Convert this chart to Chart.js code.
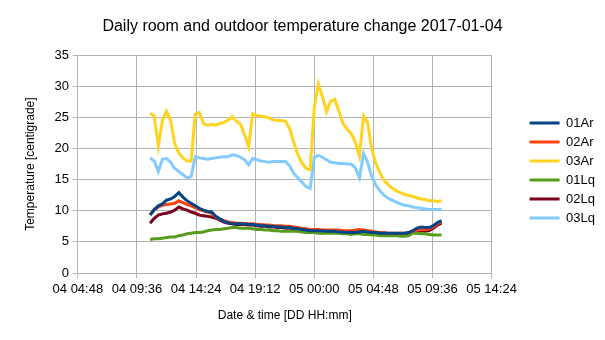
<!DOCTYPE html>
<html>
<head>
<meta charset="utf-8">
<script src="https://cdn.jsdelivr.net/npm/chart.js@4/dist/chart.umd.min.js"></script>
<style>
    html, body { margin: 0; padding: 0; background: #ffffff; }
    #box { width: 605px; height: 340px; }
</style>
</head>
<body>
<div id="box"><canvas id="myChart"></canvas></div>
<script>
// amostras a cada 20 min, a partir de 04 10:40
const sampleStart = 640;   // minutos desde 04 00:00
const sampleStep = 20;

const seriesNames = ['01Ar', '02Ar', '03Ar', '01Lq', '02Lq', '03Lq'];

const temp01Ar = [9.3, 10.2, 10.8, 11.1, 11.7, 11.9, 12.3, 12.9, 12.2, 11.6, 11.2, 10.8, 10.4, 10.1, 9.9, 9.8, 9.1, 8.7, 8.3, 8.1,
    7.9, 7.9, 7.9, 7.9, 7.8, 7.8, 7.7, 7.6, 7.6, 7.5, 7.5, 7.4, 7.4, 7.3, 7.3, 7.2, 7.1, 7.0, 6.9, 6.8,
    6.8, 6.8, 6.8, 6.7, 6.7, 6.7, 6.6, 6.6, 6.5, 6.5, 6.5, 6.6, 6.7, 6.6, 6.5, 6.5, 6.4, 6.4, 6.4, 6.4,
    6.4, 6.4, 6.4, 6.5, 6.8, 7.2, 7.4, 7.3, 7.3, 7.6, 8.1, 8.4];
const temp02Ar = [9.4, 10.1, 10.6, 10.9, 11.0, 11.1, 11.2, 11.6, 11.3, 11.0, 10.8, 10.5, 10.2, 10.0, 9.8, 9.6, 9.0, 8.6, 8.4, 8.2,
    8.1, 8.0, 8.0, 7.9, 7.9, 7.9, 7.8, 7.8, 7.7, 7.7, 7.6, 7.6, 7.6, 7.5, 7.5, 7.4, 7.3, 7.2, 7.1, 7.0,
    7.0, 7.0, 6.9, 6.9, 6.9, 6.9, 6.9, 6.8, 6.8, 6.8, 6.9, 7.0, 6.9, 6.8, 6.7, 6.6, 6.5, 6.5, 6.4, 6.4,
    6.4, 6.4, 6.4, 6.5, 6.7, 6.9, 7.0, 7.0, 7.1, 7.4, 7.9, 8.3];
const temp03Ar = [25.7, 25.2, 20.4, 24.5, 26.0, 24.5, 20.8, 19.3, 18.5, 18.0, 18.0, 25.5, 25.8, 24.0, 23.7, 23.9, 23.8, 24.0, 24.2, 24.6,
    25.1, 24.4, 23.9, 22.3, 20.3, 25.6, 25.3, 25.2, 25.1, 24.9, 24.6, 24.5, 24.5, 24.4, 23.2, 21.0, 19.0, 17.7, 16.8, 16.6,
    26.5, 30.4, 28.3, 25.9, 27.6, 27.9, 26.0, 24.0, 23.1, 22.4, 21.0, 18.8, 25.2, 24.2, 19.9, 17.6, 16.1, 14.9, 14.2, 13.6,
    13.2, 12.9, 12.6, 12.5, 12.3, 12.1, 11.9, 11.8, 11.6, 11.6, 11.5, 11.6];
const temp01Lq = [5.4, 5.5, 5.5, 5.6, 5.7, 5.8, 5.8, 6.0, 6.1, 6.3, 6.4, 6.5, 6.5, 6.6, 6.8, 6.9, 7.0, 7.0, 7.1, 7.2,
    7.3, 7.3, 7.2, 7.2, 7.2, 7.1, 7.0, 7.0, 6.9, 6.9, 6.8, 6.8, 6.7, 6.7, 6.7, 6.7, 6.7, 6.6, 6.5, 6.5,
    6.5, 6.4, 6.4, 6.4, 6.4, 6.4, 6.4, 6.3, 6.3, 6.2, 6.3, 6.3, 6.2, 6.2, 6.1, 6.1, 6.0, 6.0, 6.0, 6.0,
    6.0, 5.9, 5.9, 6.0, 6.4, 6.4, 6.3, 6.3, 6.2, 6.1, 6.1, 6.1];
const temp02Lq = [8.0, 8.8, 9.3, 9.5, 9.6, 9.8, 10.1, 10.6, 10.3, 10.1, 9.8, 9.6, 9.3, 9.2, 9.1, 9.0, 8.8, 8.5, 8.2, 8.0,
    7.9, 7.8, 7.8, 7.8, 7.7, 7.7, 7.6, 7.5, 7.5, 7.4, 7.4, 7.3, 7.3, 7.2, 7.2, 7.1, 7.0, 6.9, 6.8, 6.7,
    6.7, 6.7, 6.7, 6.6, 6.6, 6.6, 6.5, 6.5, 6.4, 6.4, 6.4, 6.5, 6.6, 6.5, 6.4, 6.4, 6.3, 6.3, 6.3, 6.3,
    6.3, 6.3, 6.3, 6.4, 6.5, 6.7, 6.8, 6.7, 6.8, 7.2, 7.7, 8.0];
const temp03Lq = [18.5, 18.0, 16.3, 18.3, 18.4, 17.8, 16.8, 16.3, 15.8, 15.3, 15.5, 18.7, 18.5, 18.4, 18.3, 18.4, 18.5, 18.6, 18.7, 18.7,
    19.0, 18.9, 18.6, 18.2, 17.4, 18.4, 18.2, 18.0, 17.9, 17.8, 17.9, 17.9, 17.9, 17.9, 17.2, 16.0, 15.3, 14.6, 13.9, 13.6,
    18.6, 18.9, 18.6, 18.2, 17.8, 17.7, 17.6, 17.6, 17.5, 17.5, 16.9, 15.3, 19.2, 17.8, 15.5, 14.1, 13.2, 12.5, 12.0, 11.7,
    11.4, 11.1, 10.9, 10.8, 10.6, 10.5, 10.4, 10.3, 10.2, 10.2, 10.2, 10.2];

// eixo x: 04 04:48 ate 05 14:24, passo 4h48
const xMin = 288;
const xMax = 2304;
const xStep = 288;
const yTicks = [0, 5, 10, 15, 20, 25, 30, 35];

const cores = ['#004586', '#ff420e', '#ffd320', '#579d1c', '#7e0021', '#83caff'];
const valores = [temp01Ar, temp02Ar, temp03Ar, temp01Lq, temp02Lq, temp03Lq];

function formatTime(m) {
    const dia = 4 + Math.floor(m / 1440);
    const h = Math.floor((m % 1440) / 60);
    const min = Math.round(m % 60);
    return String(dia).padStart(2, '0') + ' ' + String(h).padStart(2, '0') + ':' + String(min).padStart(2, '0');
}

const fonte = 'Liberation Sans, Arial, sans-serif';

// espaco extra entre a area do grafico e a legenda
const legendGap = 26;
const legendShift = 32;
const legendDrop = 9;
const legendMargin = {
    id: 'legendMargin',
    beforeInit(chart) {
        const fitOriginal = chart.legend.fit;
        chart.legend.fit = function () {
            fitOriginal.bind(chart.legend)();
            this.width += legendGap;
        };
    },
    afterLayout(chart) {
        chart.legend.left += legendShift;
        chart.legend.right += legendShift - legendGap + 10;
        chart.legend.top += legendDrop;
        chart.legend.bottom += legendDrop;
    }
};

const ctx = document.getElementById('myChart').getContext('2d');
const myChart = new Chart(ctx, {
    type: 'line',
    data: {
        datasets: seriesNames.map((nome, k) => ({
            label: nome,
            data: valores[k].map((v, i) => ({ x: sampleStart + i * sampleStep, y: v })),
            borderColor: cores[k],
            backgroundColor: cores[k],
            borderWidth: 3,
            pointRadius: 0,
            tension: 0,
            fill: false
        }))
    },
    options: {
        responsive: true,
        maintainAspectRatio: false,
        animation: false,
        layout: {
            padding: { left: 6, right: 6, top: 0, bottom: 17 }
        },
        plugins: {
            title: {
                display: true,
                text: 'Daily room and outdoor temperature change 2017-01-04',
                color: '#000000',
                font: { family: fonte, size: 16, weight: 'normal' },
                padding: { top: 17, bottom: 19 }
            },
            legend: {
                position: 'right',
                labels: {
                    color: '#000000',
                    font: { family: fonte, size: 13 },
                    usePointStyle: true,
                    pointStyle: 'line',
                    pointStyleWidth: 30,
                    boxWidth: 30,
                    padding: 6
                }
            },
            tooltip: { enabled: false }
        },
        scales: {
            x: {
                type: 'linear',
                min: xMin,
                max: xMax,
                ticks: {
                    stepSize: xStep,
                    autoSkip: false,
                    maxRotation: 0,
                    color: '#000000',
                    font: { family: fonte, size: 13 },
                    padding: 4,
                    callback: (v) => formatTime(v)
                },
                grid: { color: '#b3b3b3', tickLength: 5 },
                border: { color: '#b3b3b3' },
                title: {
                    display: true,
                    text: 'Date & time [DD HH:mm]',
                    color: '#000000',
                    font: { family: fonte, size: 12 },
                    padding: { top: 7, bottom: 0 }
                }
            },
            y: {
                min: 0,
                max: 35,
                afterBuildTicks: (axis) => { axis.ticks = yTicks.map(v => ({ value: v })); },
                ticks: {
                    color: '#000000',
                    font: { family: fonte, size: 13 },
                    padding: 4
                },
                grid: { color: '#b3b3b3', tickLength: 5 },
                border: { color: '#b3b3b3' },
                title: {
                    display: true,
                    text: 'Temperature [centigrade]',
                    color: '#000000',
                    font: { family: fonte, size: 12 },
                    padding: { top: 17, bottom: 13 }
                }
            }
        }
    },
    plugins: [legendMargin]
});
</script>
</body>
</html>
